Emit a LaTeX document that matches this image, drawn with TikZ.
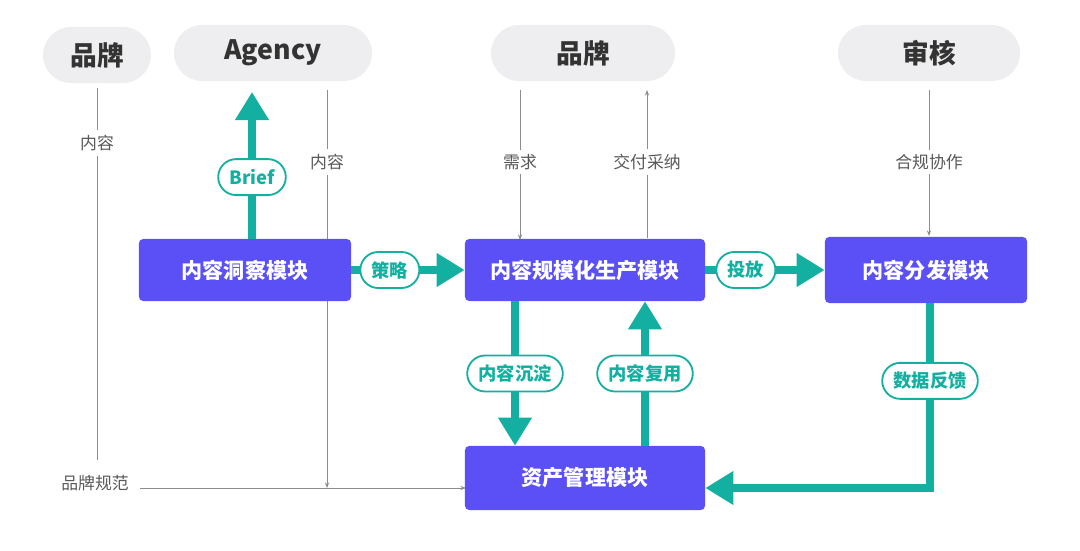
\documentclass[tikz,border=0pt]{standalone}
\usepackage{fontspec}
\setmainfont{Noto Sans CJK SC}
\usetikzlibrary{arrows.meta,positioning}
\definecolor{modblue}{HTML}{5A50F6}
\definecolor{flowteal}{HTML}{13B0A2}
\definecolor{pillgray}{HTML}{EEEEF0}

\begin{document}
\begin{tikzpicture}[x=0.025cm,y=-0.025cm,
    party/.style={rounded corners=0.7cm, fill=pillgray, minimum height=1.4cm, font=\fontsize{19}{19}\selectfont\bfseries, text=black!80},
    module/.style={rectangle, fill=modblue, rounded corners=3pt, text=white, minimum height=1.55cm, font=\fontsize{15}{15}\selectfont\bfseries},
    tag/.style={rounded corners=0.45cm, draw=flowteal, line width=1.3pt, fill=white, text=flowteal, minimum height=0.9cm, inner xsep=8pt, font=\fontsize{13}{13}\selectfont\bfseries},
    note/.style={fill=white, text=black!65, font=\fontsize{12}{12}\selectfont},
    flow/.style={flowteal, line width=5.7pt, -{Triangle[width=0.8cm,length=0.7cm]}},
    thin/.style={black!45, line width=0.6pt, -{Stealth[length=4pt,width=3pt]}}]
    \useasboundingbox (0,0) rectangle (1080,551);

    % thin gray inputs (behind the modules)
    \coordinate (lTop) at (97,88);
    \coordinate (lBot) at (97,460);
    \draw[black!45, line width=0.6pt] (lTop) -- (lBot);
    \node[note] at (97,143) {内容};
    \node[text=black!65, font=\fontsize{12}{12}\selectfont] (norm) at (95,483) {品牌规范};
    \coordinate (normEnd) at (466,488);
    \draw[thin] (140,488) -- (normEnd);
    \coordinate (agTop) at (327,90);
    \coordinate (agBot) at (327,488);
    \draw[thin] (agTop) -- (agBot);
    \node[note] at (327,162) {内容};
    \draw[thin] (520,90) -- (520,240);
    \node[note] at (520,162) {需求};
    \draw[thin] (647,238) -- (647,90);
    \node[note] at (647,162) {交付采纳};
    \draw[thin] (929,90) -- (929,236);
    \node[note] at (929,162) {合规协作};

    % parties
    \node[party, minimum width=2.7cm] (brandL) at (97,55) {品牌};
    \node[party, minimum width=4.95cm] (agency) at (273,53) {Agency};
    \node[party, minimum width=4.6cm] (brandM) at (583,53) {品牌};
    \node[party, minimum width=4.55cm] (review) at (929,53) {审核};

    % modules
    \node[module, minimum width=5.3cm] (insight) at (245,270) {内容洞察模块};
    \node[module, minimum width=6cm] (produce) at (585,270) {内容规模化生产模块};
    \node[module, minimum width=5.05cm, minimum height=1.65cm] (deliver) at (926,270) {内容分发模块};
    \node[module, minimum width=6cm, minimum height=1.6cm] (asset) at (585,478) {资产管理模块};

    % teal flows
    \draw[flow] (insight.north -| 252,0) -- (252,92) node[pos=0.42, tag] {Brief};
    \draw[flow] (insight) -- (produce) node[pos=0.34, tag] {策略};
    \draw[flow] (produce) -- (deliver) node[pos=0.34, tag] {投放};
    \draw[flow] (produce.south -| 515,0) -- (asset.north -| 515,0) node[midway, tag] {内容沉淀};
    \draw[flow] (asset.north -| 645,0) -- (produce.south -| 645,0) node[midway, tag] {内容复用};
    \draw[flow] (deliver.south -| 930,0) |- (asset.east |- 0,488) node[pos=0.21, tag] {数据反馈};
\end{tikzpicture}
\end{document}
